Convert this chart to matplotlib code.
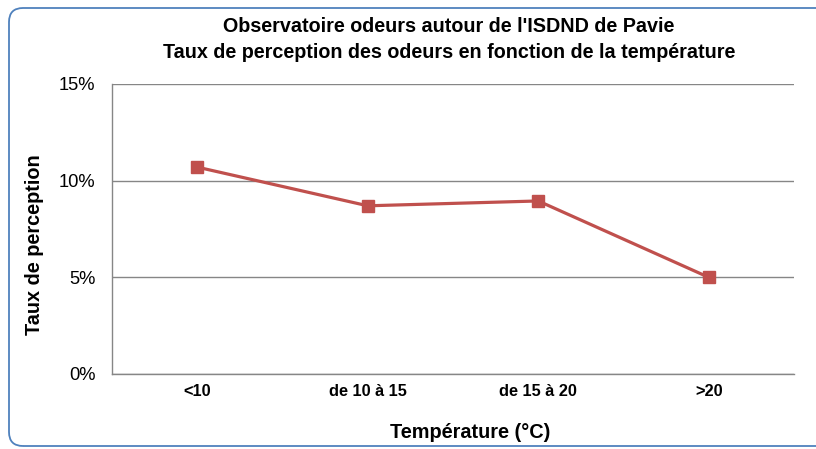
import matplotlib.pyplot as plt
from matplotlib.patches import FancyBboxPatch
from matplotlib.ticker import FuncFormatter

plt.rcParams['font.family'] = ['Liberation Sans', 'DejaVu Sans']

categories = ["<10", "de 10 à 15", "de 15 à 20", ">20"]
taux = [10.7, 8.7, 8.95, 5.0]

fig = plt.figure(figsize=(8.16, 4.49), dpi=100)
ax = fig.add_axes([112 / 816, 75 / 449, 682 / 816, 290 / 449])

# rounded frame around the chart, cut off at right and bottom
frame = FancyBboxPatch((9, 3), 830, 438, boxstyle="round,pad=0,rounding_size=14",
                       transform=None, fill=False, edgecolor='#4F81BD', linewidth=1.3)
fig.patches.append(frame)

x = range(len(categories))
ax.plot(x, taux, color='#C0504D', linewidth=2.3, marker='s', markersize=8,
        markerfacecolor='#C0504D', markeredgecolor='#C0504D')

ax.set_xlim(-0.5, len(categories) - 0.5)
ax.set_ylim(0, 15)
ax.set_yticks([0, 5, 10, 15])
ax.yaxis.set_major_formatter(FuncFormatter(lambda v, p: '{:d}%'.format(int(v))))
ax.set_xticks(list(x))
ax.set_xticklabels(categories, fontweight='bold', fontsize=11.8)
ax.tick_params(axis='x', length=0, pad=7)
ax.tick_params(axis='y', length=0, pad=12, labelsize=13.2)
ax.grid(axis='y', color='#868686', linewidth=1)
ax.set_axisbelow(True)
for s in ['top', 'right']:
    ax.spines[s].set_visible(False)
for s in ['left', 'bottom']:
    ax.spines[s].set_color('#868686')
    ax.spines[s].set_linewidth(1)

fig.text(449 / 816, 1 - 27 / 449, "Observatoire odeurs autour de l'ISDND de Pavie",
         ha='center', va='center', fontsize=14.2, fontweight='bold')
fig.text(449 / 816, 1 - 52 / 449, "Taux de perception des odeurs en fonction de la température",
         ha='center', va='center', fontsize=14.2, fontweight='bold')
fig.text(35 / 816, 1 - 245 / 449, "Taux de perception", rotation=90,
         ha='center', va='center', fontsize=14.3, fontweight='bold')
fig.text(470 / 816, 1 - 432 / 449, "Température (°C)",
         ha='center', va='center', fontsize=14.3, fontweight='bold')

fig.savefig('out.png', dpi=100)
